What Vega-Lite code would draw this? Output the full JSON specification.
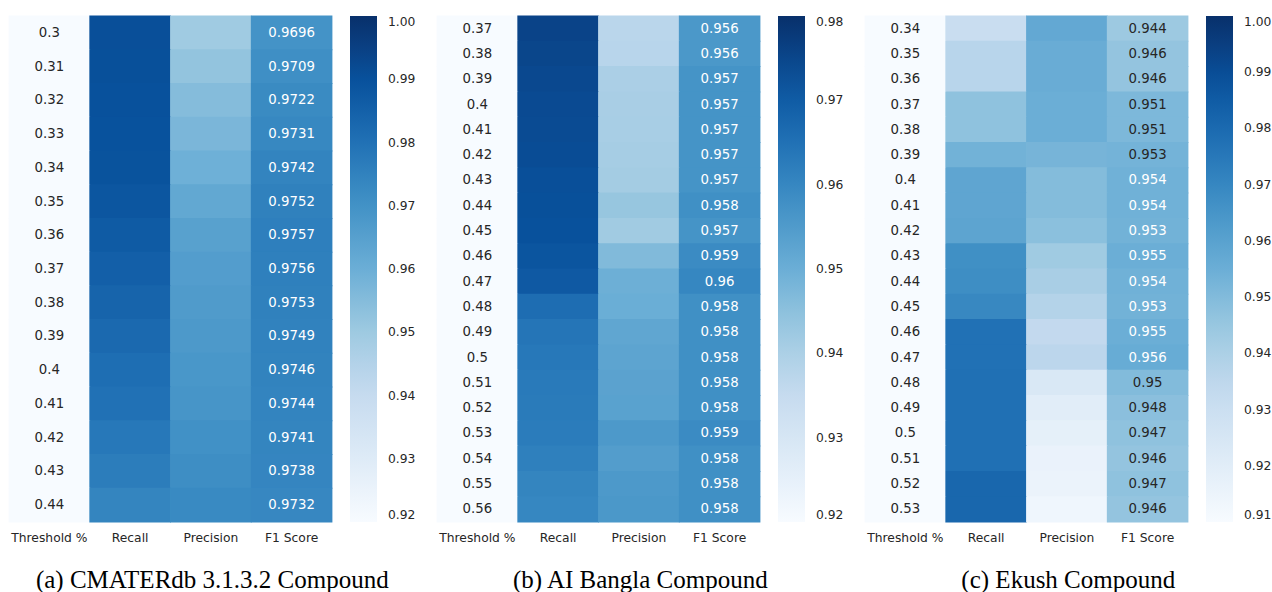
{
  "$schema": "https://vega.github.io/schema/vega-lite/v6.json",
  "background": "#ffffff",
  "padding": {"left": 8, "top": 15, "right": 0, "bottom": 0},
  "spacing": 20,
  "config": {
    "view": {"stroke": null},
    "axis": {"labelFont": "DejaVu Sans", "labelFontSize": 12.3, "labelColor": "#262626", "labelPadding": 9, "ticks": false, "domain": false, "grid": false, "labelAngle": 0, "title": null},
    "legend": {"labelFont": "DejaVu Sans", "labelFontSize": 12.3, "labelColor": "#262626", "gradientLength": 506, "gradientThickness": 27, "offset": 18, "labelOffset": 11, "gradientStrokeWidth": 0, "labelBaseline": "middle", "title": null, "direction": "vertical", "padding": 0},
    "title": {"font": "Liberation Serif", "fontSize": 25, "fontWeight": "normal", "color": "#000000", "orient": "bottom", "anchor": "middle", "frame": "bounds", "offset": 25},
    "text": {"font": "DejaVu Sans", "fontSize": 13.3}
  },
  "datasets": {
    "a": [
      {"t": 0.30, "m": "Threshold %", "v": 0.30}, {"t": 0.30, "m": "Recall", "v": 0.9905}, {"t": 0.30, "m": "Precision", "v": 0.9496}, {"t": 0.30, "m": "F1 Score", "v": 0.9696},
      {"t": 0.31, "m": "Threshold %", "v": 0.31}, {"t": 0.31, "m": "Recall", "v": 0.9903}, {"t": 0.31, "m": "Precision", "v": 0.9522}, {"t": 0.31, "m": "F1 Score", "v": 0.9709},
      {"t": 0.32, "m": "Threshold %", "v": 0.32}, {"t": 0.32, "m": "Recall", "v": 0.9900}, {"t": 0.32, "m": "Precision", "v": 0.9550}, {"t": 0.32, "m": "F1 Score", "v": 0.9722},
      {"t": 0.33, "m": "Threshold %", "v": 0.33}, {"t": 0.33, "m": "Recall", "v": 0.9898}, {"t": 0.33, "m": "Precision", "v": 0.9570}, {"t": 0.33, "m": "F1 Score", "v": 0.9731},
      {"t": 0.34, "m": "Threshold %", "v": 0.34}, {"t": 0.34, "m": "Recall", "v": 0.9895}, {"t": 0.34, "m": "Precision", "v": 0.9594}, {"t": 0.34, "m": "F1 Score", "v": 0.9742},
      {"t": 0.35, "m": "Threshold %", "v": 0.35}, {"t": 0.35, "m": "Recall", "v": 0.9885}, {"t": 0.35, "m": "Precision", "v": 0.9623}, {"t": 0.35, "m": "F1 Score", "v": 0.9752},
      {"t": 0.36, "m": "Threshold %", "v": 0.36}, {"t": 0.36, "m": "Recall", "v": 0.9870}, {"t": 0.36, "m": "Precision", "v": 0.9647}, {"t": 0.36, "m": "F1 Score", "v": 0.9757},
      {"t": 0.37, "m": "Threshold %", "v": 0.37}, {"t": 0.37, "m": "Recall", "v": 0.9855}, {"t": 0.37, "m": "Precision", "v": 0.9659}, {"t": 0.37, "m": "F1 Score", "v": 0.9756},
      {"t": 0.38, "m": "Threshold %", "v": 0.38}, {"t": 0.38, "m": "Recall", "v": 0.9840}, {"t": 0.38, "m": "Precision", "v": 0.9668}, {"t": 0.38, "m": "F1 Score", "v": 0.9753},
      {"t": 0.39, "m": "Threshold %", "v": 0.39}, {"t": 0.39, "m": "Recall", "v": 0.9825}, {"t": 0.39, "m": "Precision", "v": 0.9674}, {"t": 0.39, "m": "F1 Score", "v": 0.9749},
      {"t": 0.40, "m": "Threshold %", "v": 0.40}, {"t": 0.40, "m": "Recall", "v": 0.9810}, {"t": 0.40, "m": "Precision", "v": 0.9683}, {"t": 0.40, "m": "F1 Score", "v": 0.9746},
      {"t": 0.41, "m": "Threshold %", "v": 0.41}, {"t": 0.41, "m": "Recall", "v": 0.9800}, {"t": 0.41, "m": "Precision", "v": 0.9689}, {"t": 0.41, "m": "F1 Score", "v": 0.9744},
      {"t": 0.42, "m": "Threshold %", "v": 0.42}, {"t": 0.42, "m": "Recall", "v": 0.9780}, {"t": 0.42, "m": "Precision", "v": 0.9702}, {"t": 0.42, "m": "F1 Score", "v": 0.9741},
      {"t": 0.43, "m": "Threshold %", "v": 0.43}, {"t": 0.43, "m": "Recall", "v": 0.9765}, {"t": 0.43, "m": "Precision", "v": 0.9711}, {"t": 0.43, "m": "F1 Score", "v": 0.9738},
      {"t": 0.44, "m": "Threshold %", "v": 0.44}, {"t": 0.44, "m": "Recall", "v": 0.9740}, {"t": 0.44, "m": "Precision", "v": 0.9724}, {"t": 0.44, "m": "F1 Score", "v": 0.9732}
    ],
    "b": [
      {"t": 0.37, "m": "Threshold %", "v": 0.37}, {"t": 0.37, "m": "Recall", "v": 0.9755}, {"t": 0.37, "m": "Precision", "v": 0.9373}, {"t": 0.37, "m": "F1 Score", "v": 0.956},
      {"t": 0.38, "m": "Threshold %", "v": 0.38}, {"t": 0.38, "m": "Recall", "v": 0.9750}, {"t": 0.38, "m": "Precision", "v": 0.9377}, {"t": 0.38, "m": "F1 Score", "v": 0.956},
      {"t": 0.39, "m": "Threshold %", "v": 0.39}, {"t": 0.39, "m": "Recall", "v": 0.9745}, {"t": 0.39, "m": "Precision", "v": 0.9401}, {"t": 0.39, "m": "F1 Score", "v": 0.957},
      {"t": 0.40, "m": "Threshold %", "v": 0.40}, {"t": 0.40, "m": "Recall", "v": 0.9740}, {"t": 0.40, "m": "Precision", "v": 0.9406}, {"t": 0.40, "m": "F1 Score", "v": 0.957},
      {"t": 0.41, "m": "Threshold %", "v": 0.41}, {"t": 0.41, "m": "Recall", "v": 0.9738}, {"t": 0.41, "m": "Precision", "v": 0.9408}, {"t": 0.41, "m": "F1 Score", "v": 0.957},
      {"t": 0.42, "m": "Threshold %", "v": 0.42}, {"t": 0.42, "m": "Recall", "v": 0.9735}, {"t": 0.42, "m": "Precision", "v": 0.9411}, {"t": 0.42, "m": "F1 Score", "v": 0.957},
      {"t": 0.43, "m": "Threshold %", "v": 0.43}, {"t": 0.43, "m": "Recall", "v": 0.9730}, {"t": 0.43, "m": "Precision", "v": 0.9415}, {"t": 0.43, "m": "F1 Score", "v": 0.957},
      {"t": 0.44, "m": "Threshold %", "v": 0.44}, {"t": 0.44, "m": "Recall", "v": 0.9728}, {"t": 0.44, "m": "Precision", "v": 0.9436}, {"t": 0.44, "m": "F1 Score", "v": 0.958},
      {"t": 0.45, "m": "Threshold %", "v": 0.45}, {"t": 0.45, "m": "Recall", "v": 0.9725}, {"t": 0.45, "m": "Precision", "v": 0.9420}, {"t": 0.45, "m": "F1 Score", "v": 0.957},
      {"t": 0.46, "m": "Threshold %", "v": 0.46}, {"t": 0.46, "m": "Recall", "v": 0.9715}, {"t": 0.46, "m": "Precision", "v": 0.9468}, {"t": 0.46, "m": "F1 Score", "v": 0.959},
      {"t": 0.47, "m": "Threshold %", "v": 0.47}, {"t": 0.47, "m": "Recall", "v": 0.9705}, {"t": 0.47, "m": "Precision", "v": 0.9497}, {"t": 0.47, "m": "F1 Score", "v": 0.960},
      {"t": 0.48, "m": "Threshold %", "v": 0.48}, {"t": 0.48, "m": "Recall", "v": 0.9660}, {"t": 0.48, "m": "Precision", "v": 0.9501}, {"t": 0.48, "m": "F1 Score", "v": 0.958},
      {"t": 0.49, "m": "Threshold %", "v": 0.49}, {"t": 0.49, "m": "Recall", "v": 0.9640}, {"t": 0.49, "m": "Precision", "v": 0.9521}, {"t": 0.49, "m": "F1 Score", "v": 0.958},
      {"t": 0.50, "m": "Threshold %", "v": 0.50}, {"t": 0.50, "m": "Recall", "v": 0.9635}, {"t": 0.50, "m": "Precision", "v": 0.9526}, {"t": 0.50, "m": "F1 Score", "v": 0.958},
      {"t": 0.51, "m": "Threshold %", "v": 0.51}, {"t": 0.51, "m": "Recall", "v": 0.9630}, {"t": 0.51, "m": "Precision", "v": 0.9531}, {"t": 0.51, "m": "F1 Score", "v": 0.958},
      {"t": 0.52, "m": "Threshold %", "v": 0.52}, {"t": 0.52, "m": "Recall", "v": 0.9628}, {"t": 0.52, "m": "Precision", "v": 0.9533}, {"t": 0.52, "m": "F1 Score", "v": 0.958},
      {"t": 0.53, "m": "Threshold %", "v": 0.53}, {"t": 0.53, "m": "Recall", "v": 0.9625}, {"t": 0.53, "m": "Precision", "v": 0.9555}, {"t": 0.53, "m": "F1 Score", "v": 0.959},
      {"t": 0.54, "m": "Threshold %", "v": 0.54}, {"t": 0.54, "m": "Recall", "v": 0.9615}, {"t": 0.54, "m": "Precision", "v": 0.9545}, {"t": 0.54, "m": "F1 Score", "v": 0.958},
      {"t": 0.55, "m": "Threshold %", "v": 0.55}, {"t": 0.55, "m": "Recall", "v": 0.9605}, {"t": 0.55, "m": "Precision", "v": 0.9555}, {"t": 0.55, "m": "F1 Score", "v": 0.958},
      {"t": 0.56, "m": "Threshold %", "v": 0.56}, {"t": 0.56, "m": "Recall", "v": 0.9600}, {"t": 0.56, "m": "Precision", "v": 0.9560}, {"t": 0.56, "m": "F1 Score", "v": 0.958}
    ],
    "c": [
      {"t": 0.34, "m": "Threshold %", "v": 0.34}, {"t": 0.34, "m": "Recall", "v": 0.9310}, {"t": 0.34, "m": "Precision", "v": 0.9574}, {"t": 0.34, "m": "F1 Score", "v": 0.944},
      {"t": 0.35, "m": "Threshold %", "v": 0.35}, {"t": 0.35, "m": "Recall", "v": 0.9365}, {"t": 0.35, "m": "Precision", "v": 0.9557}, {"t": 0.35, "m": "F1 Score", "v": 0.946},
      {"t": 0.36, "m": "Threshold %", "v": 0.36}, {"t": 0.36, "m": "Recall", "v": 0.9365}, {"t": 0.36, "m": "Precision", "v": 0.9557}, {"t": 0.36, "m": "F1 Score", "v": 0.946},
      {"t": 0.37, "m": "Threshold %", "v": 0.37}, {"t": 0.37, "m": "Recall", "v": 0.9470}, {"t": 0.37, "m": "Precision", "v": 0.9550}, {"t": 0.37, "m": "F1 Score", "v": 0.951},
      {"t": 0.38, "m": "Threshold %", "v": 0.38}, {"t": 0.38, "m": "Recall", "v": 0.9470}, {"t": 0.38, "m": "Precision", "v": 0.9550}, {"t": 0.38, "m": "F1 Score", "v": 0.951},
      {"t": 0.39, "m": "Threshold %", "v": 0.39}, {"t": 0.39, "m": "Recall", "v": 0.9535}, {"t": 0.39, "m": "Precision", "v": 0.9525}, {"t": 0.39, "m": "F1 Score", "v": 0.9530},
      {"t": 0.40, "m": "Threshold %", "v": 0.40}, {"t": 0.40, "m": "Recall", "v": 0.9585}, {"t": 0.40, "m": "Precision", "v": 0.9495}, {"t": 0.40, "m": "F1 Score", "v": 0.954},
      {"t": 0.41, "m": "Threshold %", "v": 0.41}, {"t": 0.41, "m": "Recall", "v": 0.9585}, {"t": 0.41, "m": "Precision", "v": 0.9495}, {"t": 0.41, "m": "F1 Score", "v": 0.954},
      {"t": 0.42, "m": "Threshold %", "v": 0.42}, {"t": 0.42, "m": "Recall", "v": 0.9590}, {"t": 0.42, "m": "Precision", "v": 0.9479}, {"t": 0.42, "m": "F1 Score", "v": 0.9534},
      {"t": 0.43, "m": "Threshold %", "v": 0.43}, {"t": 0.43, "m": "Recall", "v": 0.9670}, {"t": 0.43, "m": "Precision", "v": 0.9433}, {"t": 0.43, "m": "F1 Score", "v": 0.955},
      {"t": 0.44, "m": "Threshold %", "v": 0.44}, {"t": 0.44, "m": "Recall", "v": 0.9675}, {"t": 0.44, "m": "Precision", "v": 0.9409}, {"t": 0.44, "m": "F1 Score", "v": 0.954},
      {"t": 0.45, "m": "Threshold %", "v": 0.45}, {"t": 0.45, "m": "Recall", "v": 0.9695}, {"t": 0.45, "m": "Precision", "v": 0.9378}, {"t": 0.45, "m": "F1 Score", "v": 0.9534},
      {"t": 0.46, "m": "Threshold %", "v": 0.46}, {"t": 0.46, "m": "Recall", "v": 0.9775}, {"t": 0.46, "m": "Precision", "v": 0.9335}, {"t": 0.46, "m": "F1 Score", "v": 0.955},
      {"t": 0.47, "m": "Threshold %", "v": 0.47}, {"t": 0.47, "m": "Recall", "v": 0.9775}, {"t": 0.47, "m": "Precision", "v": 0.9354}, {"t": 0.47, "m": "F1 Score", "v": 0.956},
      {"t": 0.48, "m": "Threshold %", "v": 0.48}, {"t": 0.48, "m": "Recall", "v": 0.9780}, {"t": 0.48, "m": "Precision", "v": 0.9236}, {"t": 0.48, "m": "F1 Score", "v": 0.950},
      {"t": 0.49, "m": "Threshold %", "v": 0.49}, {"t": 0.49, "m": "Recall", "v": 0.9780}, {"t": 0.49, "m": "Precision", "v": 0.9198}, {"t": 0.49, "m": "F1 Score", "v": 0.948},
      {"t": 0.50, "m": "Threshold %", "v": 0.50}, {"t": 0.50, "m": "Recall", "v": 0.9780}, {"t": 0.50, "m": "Precision", "v": 0.9179}, {"t": 0.50, "m": "F1 Score", "v": 0.947},
      {"t": 0.51, "m": "Threshold %", "v": 0.51}, {"t": 0.51, "m": "Recall", "v": 0.9780}, {"t": 0.51, "m": "Precision", "v": 0.9160}, {"t": 0.51, "m": "F1 Score", "v": 0.946},
      {"t": 0.52, "m": "Threshold %", "v": 0.52}, {"t": 0.52, "m": "Recall", "v": 0.9810}, {"t": 0.52, "m": "Precision", "v": 0.9153}, {"t": 0.52, "m": "F1 Score", "v": 0.947},
      {"t": 0.53, "m": "Threshold %", "v": 0.53}, {"t": 0.53, "m": "Recall", "v": 0.9810}, {"t": 0.53, "m": "Precision", "v": 0.9134}, {"t": 0.53, "m": "F1 Score", "v": 0.946}
    ]
  },
  "resolve": {"scale": {"color": "independent"}, "legend": {"color": "independent"}},
  "hconcat": [
    {
      "data": {"name": "a"},
      "width": 323, "height": 506,
      "title": {"text": "(a) CMATERdb 3.1.3.2 Compound"},
      "encoding": {
        "x": {"field": "m", "type": "nominal", "sort": ["Threshold %", "Recall", "Precision", "F1 Score"], "scale": {"paddingInner": 0, "paddingOuter": 0}},
        "y": {"field": "t", "type": "ordinal", "sort": "ascending", "axis": null, "scale": {"paddingInner": 0, "paddingOuter": 0}}
      },
      "layer": [
        {"mark": {"type": "rect", "width": {"band": 1.01}, "height": {"band": 1.03}}, "encoding": {
          "color": {"field": "v", "type": "quantitative", "scale": {"type": "linear", "domain": [0.92, 1.0], "clamp": true, "range": ["#f7fbff", "#deebf7", "#c6dbef", "#9ecae1", "#6baed6", "#4292c6", "#2171b5", "#08519c", "#08306b"]}, "legend": {"values": [0.92, 0.93, 0.94, 0.95, 0.96, 0.97, 0.98, 0.99, 1.0], "format": ".2f", "labelOffset": 11}}
        }},
        {"transform": [{"filter": "datum.m === 'Threshold %'"}], "mark": {"type": "text", "color": "#262626"}, "encoding": {"text": {"field": "t", "type": "quantitative", "format": ".2~f"}}},
        {"transform": [{"filter": "datum.m === 'F1 Score'"}], "mark": {"type": "text"}, "encoding": {"text": {"field": "v", "type": "quantitative", "format": ".4~f"}, "color": {"condition": {"test": "datum.v >= 0.9584", "value": "#ffffff"}, "value": "#262626"}}}
      ]
    },
    {
      "data": {"name": "b"},
      "width": 323, "height": 506,
      "title": {"text": "(b) AI Bangla Compound"},
      "encoding": {
        "x": {"field": "m", "type": "nominal", "sort": ["Threshold %", "Recall", "Precision", "F1 Score"], "scale": {"paddingInner": 0, "paddingOuter": 0}},
        "y": {"field": "t", "type": "ordinal", "sort": "ascending", "axis": null, "scale": {"paddingInner": 0, "paddingOuter": 0}}
      },
      "layer": [
        {"mark": {"type": "rect", "width": {"band": 1.01}, "height": {"band": 1.04}}, "encoding": {
          "color": {"field": "v", "type": "quantitative", "scale": {"type": "linear", "domain": [0.92, 0.98], "clamp": true, "range": ["#f7fbff", "#deebf7", "#c6dbef", "#9ecae1", "#6baed6", "#4292c6", "#2171b5", "#08519c", "#08306b"]}, "legend": {"values": [0.92, 0.93, 0.94, 0.95, 0.96, 0.97, 0.98], "format": ".2f", "labelOffset": 11}}
        }},
        {"transform": [{"filter": "datum.m === 'Threshold %'"}], "mark": {"type": "text", "color": "#262626"}, "encoding": {"text": {"field": "t", "type": "quantitative", "format": ".2~f"}}},
        {"transform": [{"filter": "datum.m === 'F1 Score'"}], "mark": {"type": "text"}, "encoding": {"text": {"field": "v", "type": "quantitative", "format": ".3~f"}, "color": {"condition": {"test": "datum.v >= 0.9488", "value": "#ffffff"}, "value": "#262626"}}}
      ]
    },
    {
      "data": {"name": "c"},
      "width": 323, "height": 506,
      "title": {"text": "(c) Ekush Compound"},
      "encoding": {
        "x": {"field": "m", "type": "nominal", "sort": ["Threshold %", "Recall", "Precision", "F1 Score"], "scale": {"paddingInner": 0, "paddingOuter": 0}},
        "y": {"field": "t", "type": "ordinal", "sort": "ascending", "axis": null, "scale": {"paddingInner": 0, "paddingOuter": 0}}
      },
      "layer": [
        {"mark": {"type": "rect", "width": {"band": 1.01}, "height": {"band": 1.04}}, "encoding": {
          "color": {"field": "v", "type": "quantitative", "scale": {"type": "linear", "domain": [0.91, 1.0], "clamp": true, "range": ["#f7fbff", "#deebf7", "#c6dbef", "#9ecae1", "#6baed6", "#4292c6", "#2171b5", "#08519c", "#08306b"]}, "legend": {"values": [0.91, 0.92, 0.93, 0.94, 0.95, 0.96, 0.97, 0.98, 0.99, 1.0], "format": ".2f", "labelOffset": 11}}
        }},
        {"transform": [{"filter": "datum.m === 'Threshold %'"}], "mark": {"type": "text", "color": "#262626"}, "encoding": {"text": {"field": "t", "type": "quantitative", "format": ".2~f"}}},
        {"transform": [{"filter": "datum.m === 'F1 Score'"}], "mark": {"type": "text"}, "encoding": {"text": {"field": "v", "type": "quantitative", "format": ".3~f"}, "color": {"condition": {"test": "datum.v >= 0.9532", "value": "#ffffff"}, "value": "#262626"}}}
      ]
    }
  ]
}
